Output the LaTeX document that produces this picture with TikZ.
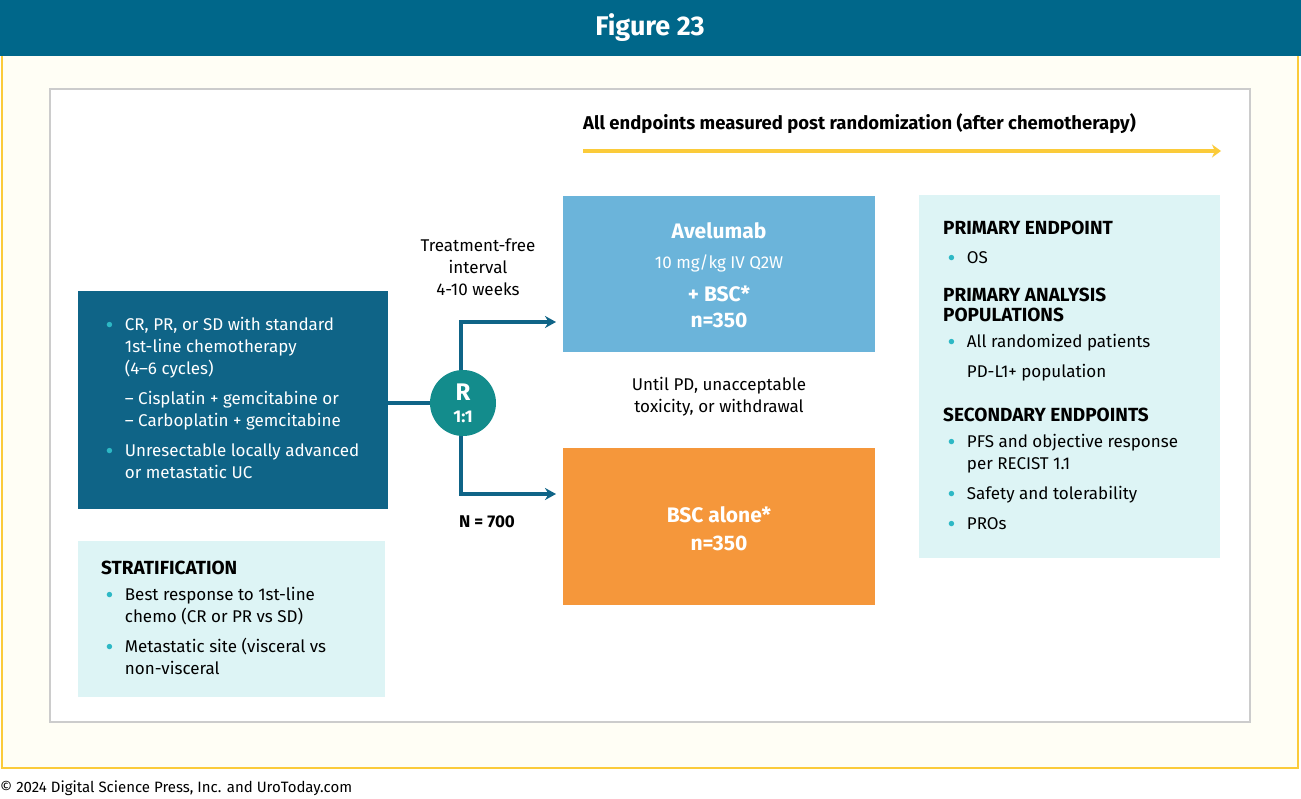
\documentclass[tikz,border=0pt]{standalone}
\usepackage{fontspec}
\setmainfont{Fira Sans}
\usetikzlibrary{arrows.meta}
\definecolor{hdr}{HTML}{00678A}
\definecolor{dk}{HTML}{0F6487}
\definecolor{lc}{HTML}{DDF4F5}
\definecolor{bul}{HTML}{2DB8C5}
\definecolor{teal}{HTML}{138C8C}
\definecolor{av}{HTML}{6BB4DA}
\definecolor{og}{HTML}{F5973B}
\definecolor{yl}{HTML}{FBCB3A}
\newcommand{\bu}{\makebox[1.1em][l]{\textcolor{bul}{\raisebox{0.12em}{\scalebox{0.8}{$\bullet$}}}}}
\newcommand{\ind}{\hspace{1.1em}}
\tikzset{txt/.style={font=\fontsize{17}{22}\selectfont,align=left,inner sep=0pt},
 hd/.style={font=\fontsize{19}{21}\selectfont\bfseries,inner sep=0pt,anchor=west},
 arr/.style={draw=dk,line width=3.5pt,-{Stealth[length=11pt,width=12pt]}}}
\begin{document}
\begin{tikzpicture}[x=1pt,y=-1pt]
\useasboundingbox (0,0) rectangle (1301,799);
\fill[white] (0,0) rectangle (1301,799);
\draw[yl,line width=2pt,fill=yellow!4] (2,55) rectangle (1298,768);
\fill[hdr] (0,0) rectangle (1301,56);
\node[white,font=\fontsize{27}{28}\selectfont\bfseries] (title) at (650,28) {Figure 23};
\draw[gray!40,line width=1.5pt,fill=white] (50,89) rectangle (1250,722);
\node[anchor=west,font=\fontsize{18.5}{20}\selectfont\bfseries,inner sep=0pt] (ep) at (583,124) {All endpoints measured post randomization (after chemotherapy)};
\coordinate (a1) at (583,151); \coordinate (a2) at (1221,151);
\draw[yl,line width=3.5pt,-{Stealth[length=9pt,width=13pt]}] (a1) -- (a2);
% left box
\node[fill=dk,minimum width=310,minimum height=218,anchor=north west,inner sep=0] (lb) at (78,291) {};
\node[txt,white,anchor=north west] (lt) at (106,317) {\bu CR, PR, or SD with standard\\\ind 1st-line chemotherapy\\\ind (4--6 cycles)\\[8pt]\ind -- Cisplatin + gemcitabine or\\\ind -- Carboplatin + gemcitabine\\[8pt]\bu Unresectable locally advanced\\\ind or metastatic UC};
% stratification
\node[fill=lc,minimum width=307,minimum height=156,anchor=north west,inner sep=0] (sb) at (78,541) {};
\node[hd] (sh) at (101,568) {STRATIFICATION};
\node[txt,anchor=north west] (st) at (106,587) {\bu Best response to 1st-line\\\ind chemo (CR or PR vs SD)\\[8pt]\bu Metastatic site (visceral vs\\\ind non-visceral};
% R
\node[circle,fill=teal,minimum size=66,inner sep=0] (R) at (463,403) {};
\node[white,font=\fontsize{24}{24}\selectfont\bfseries,inner sep=0] (Rt) at (463,392) {R};
\node[white,font=\fontsize{17}{17}\selectfont\bfseries,inner sep=0] (Rr) at (463,417) {1:1};
\draw[dk,line width=3.5pt] (lb.east |- R) -- (R.west);
\coordinate (t) at (461,322); \coordinate (b) at (461,494);
\draw[dk,line width=3.5pt] (R.north -| t) -- (t);
\draw[dk,line width=3.5pt] (R.south -| b) -- (b);
% boxes
\node[fill=av,minimum width=312,minimum height=156,anchor=north west,inner sep=0] (avb) at (563,196) {};
\node[fill=og,minimum width=312,minimum height=157,anchor=north west,inner sep=0] (bsb) at (563,448) {};
\draw[arr] ([xshift=-1.75pt]t) -- ([xshift=-7pt]avb.west |- t);
\draw[arr] ([xshift=-1.75pt]b) -- ([xshift=-7pt]bsb.west |- b);
\node[white,font=\fontsize{21}{24}\selectfont\bfseries] (avt) at (719,231) {Avelumab};
\node[white,font=\fontsize{17}{20}\selectfont] (avd) at (719,263) {10 mg/kg IV Q2W};
\node[white,align=center,font=\fontsize{21}{26}\selectfont\bfseries] (avn) at (719,307) {+ BSC*\\n=350};
\node[white,align=center,font=\fontsize{21}{28}\selectfont\bfseries] (bst) at (719,529) {BSC alone*\\n=350};
\node[txt,align=center] (tf) at (478,267) {Treatment-free\\interval\\4-10 weeks};
\node[txt,align=center] (un) at (719,397) {Until PD, unacceptable\\toxicity, or withdrawal};
\node[font=\fontsize{17}{20}\selectfont\bfseries] (N) at (487,522) {N = 700};
% right box
\node[fill=lc,minimum width=301,minimum height=363,anchor=north west,inner sep=0] (rb) at (919,195) {};
\node[hd] (h1) at (943,228) {PRIMARY ENDPOINT};
\node[txt,anchor=west] (o1) at (948,258) {\bu OS};
\node[hd,align=left,font=\fontsize{19}{20}\selectfont\bfseries] (h2) at (943,305) {PRIMARY ANALYSIS\\POPULATIONS};
\node[txt,anchor=north west,font=\fontsize{17}{30}\selectfont] (o2) at (948,334) {\bu All randomized patients\\\ind PD-L1+ population};
\node[hd] (h3) at (943,415) {SECONDARY ENDPOINTS};
\node[txt,anchor=north west] (o3) at (948,434) {\bu PFS and objective response\\\ind per RECIST 1.1\\[8pt]\bu Safety and tolerability\\[8pt]\bu PROs};
\node[anchor=west,inner sep=0,font=\fontsize{15}{16}\selectfont] (cp) at (0,788) {© 2024 Digital Science Press, Inc. and UroToday.com};
\end{tikzpicture}
\end{document}
